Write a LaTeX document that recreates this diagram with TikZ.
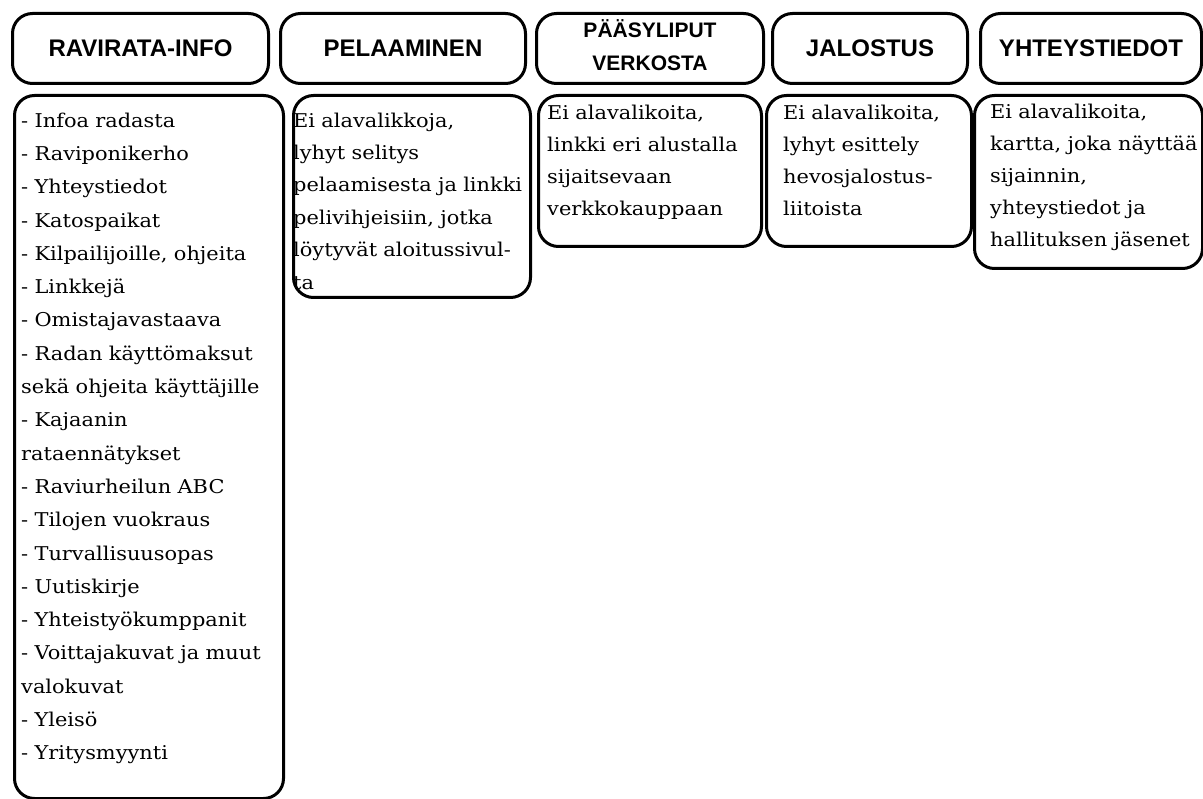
\documentclass[tikz,border=0pt]{standalone}
\usepackage{fontspec}
\setmainfont{DejaVu Serif}[FakeStretch=1.1]
\newfontfamily\headfont{Liberation Sans}
\usetikzlibrary{positioning}

\tikzset{
  menubox/.style={draw=black, line width=3pt, rounded corners=20pt,
    anchor=north west, inner sep=0pt},
  headtext/.style={font=\headfont\bfseries\fontsize{24}{28}\selectfont},
  bodytext/.style={anchor=north west, inner sep=0pt, align=left,
    text width=260pt, font=\fontsize{19}{#1}\selectfont},
}
\newcommand{\firstline}{\rule{0pt}{15pt}}

\begin{document}
\begin{tikzpicture}[x=1pt, y=-1pt]
  \useasboundingbox (0,0) rectangle (1203,799);
  % Menu headers
  \node[menubox, headtext, minimum width=256pt, minimum height=70pt] (hRavi) at (11,12) {RAVIRATA-INFO};
  \node[menubox, headtext, minimum width=245pt, minimum height=70pt] (hPela) at (279,12) {PELAAMINEN};
  \node[menubox, minimum width=227pt, minimum height=70pt] (hLiput) at (535,12) {};
  \node[align=center, font=\headfont\bfseries\fontsize{21}{33}\selectfont]
    (hLiputText) at ([yshift=3pt]hLiput.center) {PÄÄSYLIPUT\\VERKOSTA};
  \node[menubox, headtext, minimum width=195pt, minimum height=70pt] (hJalo) at (771,12) {JALOSTUS};
  \node[menubox, headtext, minimum width=221pt, minimum height=70pt] (hYht) at (979,12) {YHTEYSTIEDOT};
  % Submenu boxes
  \node[menubox, minimum width=269pt, minimum height=703pt] (bRavi) at (13,94) {};
  \node[menubox, minimum width=237pt, minimum height=202pt] (bPela) at (292,94) {};
  \node[menubox, minimum width=223pt, minimum height=151pt] (bLiput) at (537,94) {};
  \node[menubox, minimum width=205pt, minimum height=151pt] (bJalo) at (765,94) {};
  \node[menubox, minimum width=228pt, minimum height=173pt] (bYht) at (973,94) {};
  % Submenu texts
  \node[bodytext=33.3pt] (tRavi) at ([xshift=8pt, yshift=-18pt]bRavi.north west) {\firstline- Infoa radasta\\
    - Raviponikerho\\
    - Yhteystiedot\\
    - Katospaikat\\
    - Kilpailijoille, ohjeita\\
    - Linkkejä\\
    - Omistajavastaava\\
    - Radan käyttömaksut\\
    sekä ohjeita käyttäjille\\
    - Kajaanin\\
    rataennätykset\\
    - Raviurheilun ABC\\
    - Tilojen vuokraus\\
    - Turvallisuusopas\\
    - Uutiskirje\\
    - Yhteistyökumppanit\\
    - Voittajakuvat ja muut\\
    valokuvat\\
    - Yleisö\\
    - Yritysmyynti};
  \node[bodytext=32.4pt] (tPela) at ([xshift=1pt, yshift=-18pt]bPela.north west) {\firstline Ei alavalikkoja,\\
    lyhyt selitys\\
    pelaamisesta ja linkki\\
    pelivihjeisiin, jotka\\
    löytyvät aloitussivul-\\
    ta};
  \node[bodytext=32pt] (tLiput) at ([xshift=10pt, yshift=-10pt]bLiput.north west) {\firstline Ei alavalikoita,\\
    linkki eri alustalla\\
    sijaitsevaan\\
    verkkokauppaan};
  \node[bodytext=32pt] (tJalo) at ([xshift=18pt, yshift=-10pt]bJalo.north west) {\firstline Ei alavalikoita,\\
    lyhyt esittely\\
    hevosjalostus-\\
    liitoista};
  \node[bodytext=32pt] (tYht) at ([xshift=17pt, yshift=-9pt]bYht.north west) {\firstline Ei alavalikoita,\\
    kartta, joka näyttää\\
    sijainnin,\\
    yhteystiedot ja\\
    hallituksen jäsenet};
\end{tikzpicture}
\end{document}
